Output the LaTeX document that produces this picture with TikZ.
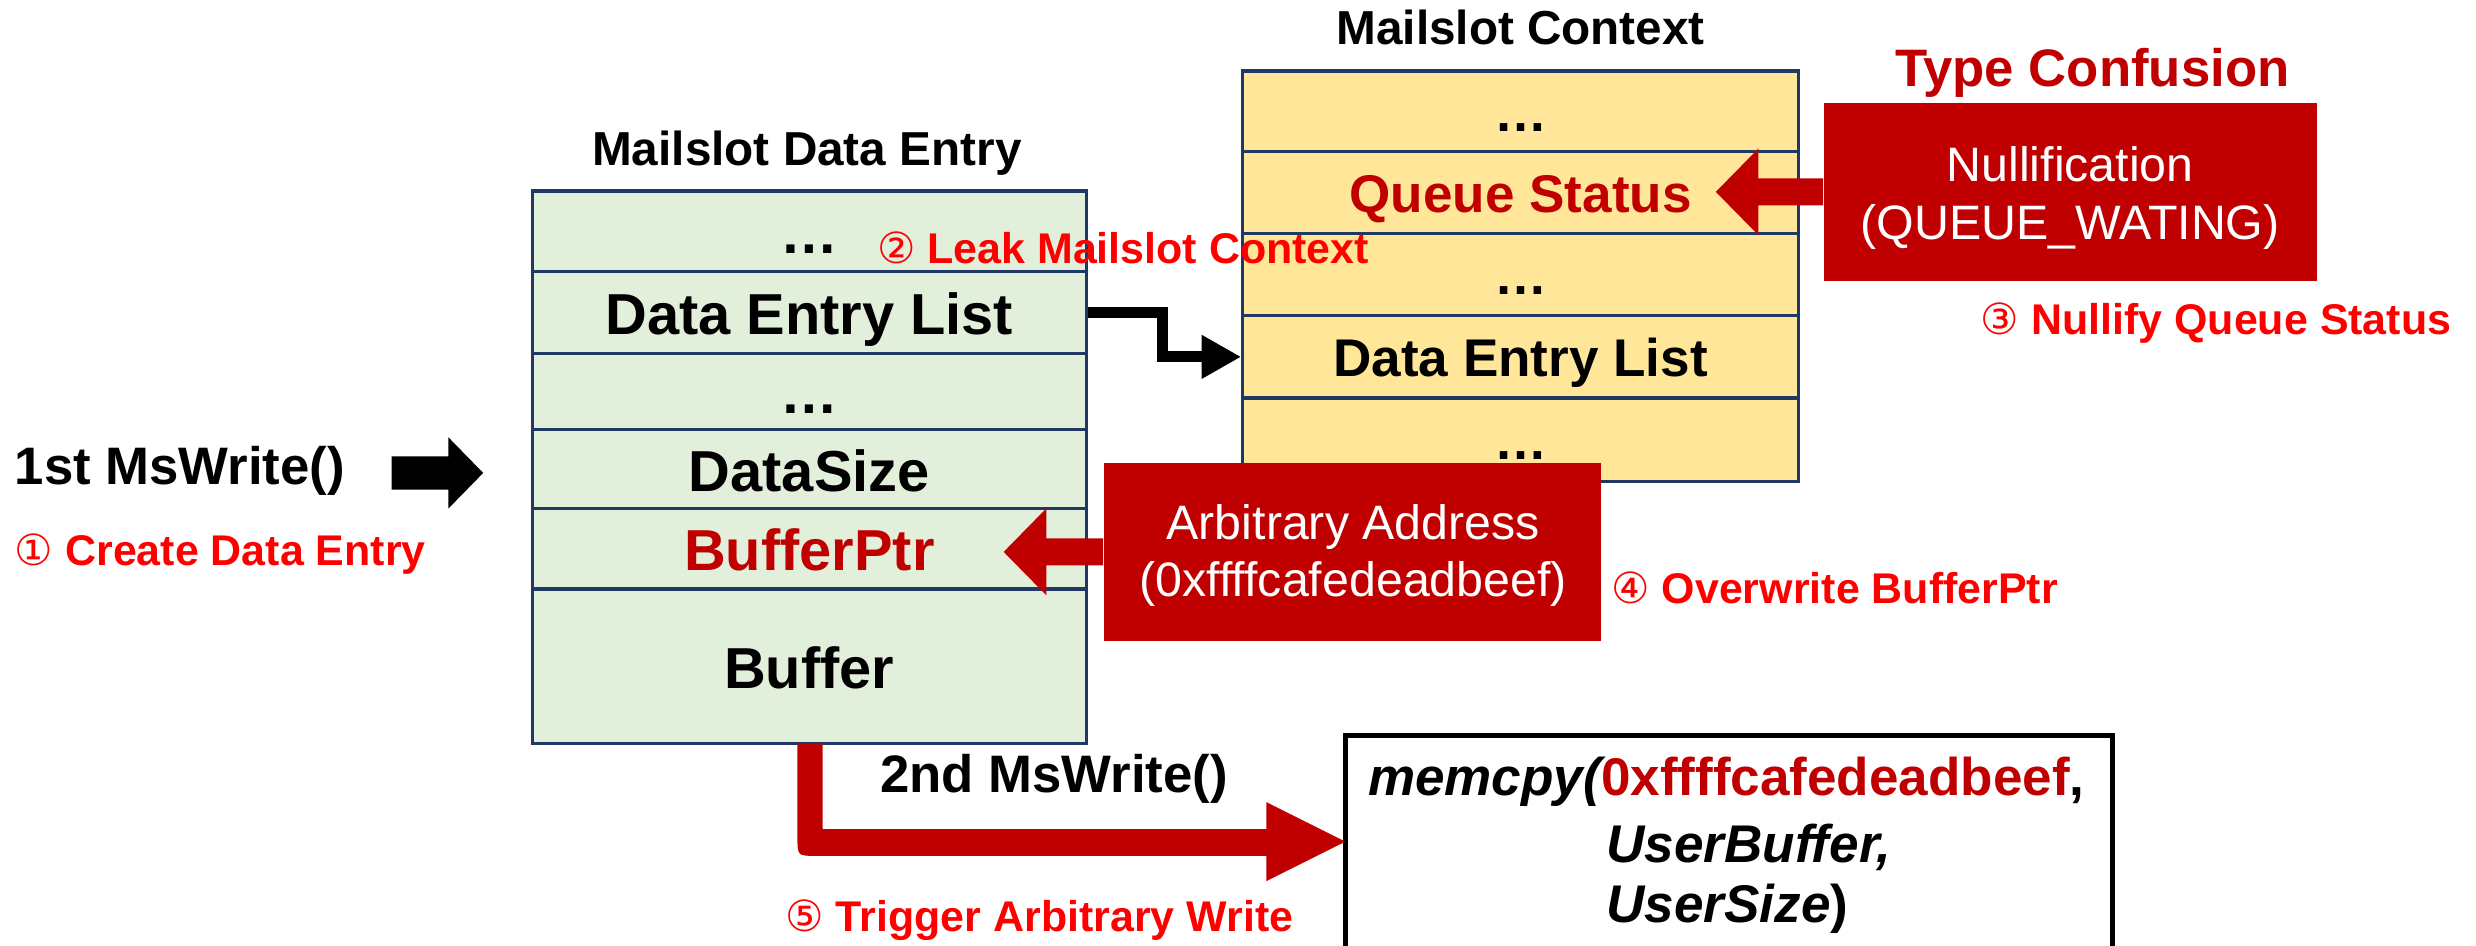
\documentclass[tikz,border=0pt]{standalone}
\usepackage{fontspec}
\setmainfont{Liberation Sans}
\newfontfamily\dvfont{DejaVu Sans}
\usetikzlibrary{arrows.meta,calc}
\definecolor{degreen}{HTML}{E2EFDA}
\definecolor{cxyellow}{HTML}{FFE699}
\definecolor{navyb}{HTML}{203864}
\definecolor{dred}{HTML}{C00000}
\definecolor{bred}{HTML}{FF0000}
\newcommand{\cnum}[1]{{\dvfont\mdseries #1}}
\begin{document}
\begin{tikzpicture}[x=0.5pt,y=-0.5pt,
  derow/.style={draw=navyb, line width=1pt, fill=degreen, minimum width=175.5pt, inner sep=0pt,
    font=\bfseries\fontsize{18.3}{22}\selectfont, text height=14pt, text depth=0pt},
  cxrow/.style={draw=navyb, line width=1pt, fill=cxyellow, minimum width=176pt, inner sep=0pt,
    font=\bfseries\fontsize{16.8}{20}\selectfont, text height=12.5pt, text depth=0pt},
  ttl/.style={font=\bfseries\fontsize{15.1}{18}\selectfont, anchor=base, inner sep=0pt},
  redlbl/.style={font=\bfseries\fontsize{13.6}{16}\selectfont, text=bred, anchor=base west, inner sep=0pt},
  redbox/.style={fill=dred, draw=none, inner sep=0pt},
  boxtxt/.style={font=\fontsize{15.3}{18}\selectfont, text=white, anchor=base, inner sep=0pt},
  calltxt/.style={font=\bfseries\fontsize{16.7}{20}\selectfont, anchor=base west, inner sep=0pt},
  codetxt/.style={font=\bfseries\fontsize{16.8}{20}\selectfont, anchor=base west, inner sep=0pt},
  blkarrow/.style={line width=3.5pt, -{Triangle[length=12.5pt,width=13pt]}},
]
\useasboundingbox (0,0) rectangle (1568,599);
\clip (0,0) rectangle (1568,599);
\fill[white] (0,0) rectangle (1568,599);

% Titles
\node[ttl] (detitle) at (511,105) {Mailslot Data Entry};
\node[ttl] (cxtitle) at (963,28) {Mailslot Context};
\node[font=\bfseries\fontsize{16.7}{20}\selectfont, text=dred, anchor=base, inner sep=0pt] (tc) at (1325,54.5) {Type Confusion};

% Mailslot Data Entry
\node[derow, minimum height=25.5pt] (de1) at (512.5,146.5) {…};
\node[derow, minimum height=26pt] (de2) at (512.5,198) {Data Entry List};
\node[derow, minimum height=24pt] (de3) at (512.5,248) {…};
\node[derow, minimum height=25pt] (de4) at (512.5,297) {DataSize};
\node[derow, minimum height=25.5pt, text=dred] (de5) at (512.5,347.5) {BufferPtr};
\node[derow, minimum height=49pt] (de6) at (512.5,422) {Buffer};

% Mailslot Context
\node[cxrow, minimum height=25.5pt] (cx1) at (963,70.5) {…};
\node[cxrow, minimum height=26pt, text=dred] (cx2) at (963,122) {Queue Status};
\node[cxrow, minimum height=26pt] (cx3) at (963,174) {…};
\node[cxrow, minimum height=26pt] (cx4) at (963,226) {Data Entry List};
\node[cxrow, minimum height=26.5pt] (cx5) at (963,278.5) {…};

% Nullification box
\node[redbox, minimum width=156pt, minimum height=56.5pt] (nul) at (1311,121.5) {};
\node[boxtxt] (nult1) at (1311,115) {Nullification};
\node[boxtxt] (nult2) at (1311,151.5) {(QUEUE\_WATING)};
\fill[dred] ($(nul.west)+(0,-8.5)$) -- ++(-41,0) -- ++(0,-19) -- ($(nul.west)+(-68,0)$)
  -- ($(nul.west)+(-41,27.5)$) -- ++(0,-19) -- ($(nul.west)+(0,8.5)$) -- cycle;

% Arbitrary address box
\node[redbox, minimum width=157.5pt, minimum height=56.5pt] (arb) at (856.5,349.5) {};
\node[boxtxt] (arbt1) at (857,341.5) {Arbitrary Address};
\node[boxtxt] (arbt2) at (857,378) {(0xffffcafedeadbeef)};
\fill[dred] ($(arb.west)+(0,-8.5)$) -- ++(-36,0) -- ++(0,-19) -- ($(arb.west)+(-63,0)$)
  -- ($(arb.west)+(-36,27.5)$) -- ++(0,-19) -- ($(arb.west)+(0,8.5)$) -- cycle;

% Leak arrow
\draw[blkarrow] (de2.east) -- ++(47,0) |- (cx4.west);

% 1st MsWrite
\node[calltxt] (ms1) at (9,307) {1st MsWrite()};
\fill[black] (248,289) -- (284,289) -- (284,277) -- (306,299.5) -- (284,322) -- (284,310) -- (248,310) -- cycle;

% memcpy box
\draw[line width=1.5pt] (852,620) -- (852,466) -- (1338,466) -- (1338,620);
\node[codetxt] (mc1) at (866,504) {\itshape memcpy(\upshape\textcolor{dred}{0xffffcafedeadbeef},};
\node[codetxt] (mc2) at (1017,546) {\itshape UserBuffer,};
\node[codetxt] (mc3) at (1017,584) {\itshape UserSize\upshape)};

% 2nd MsWrite arrow
\coordinate (mcl) at (852,533);
\fill[dred] (505,471) -- (521,471) -- (521,525) -- (802,525) -- (802,508) -- (mcl) -- (802,558)
  -- (802,542) -- (517,542) .. controls (505,542) .. (505,530) -- cycle;
\node[calltxt] (ms2) at (557,502) {2nd MsWrite()};

% Step labels
\node[redlbl] (s1) at (9,358) {\cnum{①} Create Data Entry};
\node[redlbl] (s2) at (555,167) {\cnum{②} Leak Mailslot Context};
\node[redlbl] (s3) at (1254,212) {\cnum{③} Nullify Queue Status};
\node[redlbl] (s4) at (1020,382) {\cnum{④} Overwrite BufferPtr};
\node[redlbl] (s5) at (497,590) {\cnum{⑤} Trigger Arbitrary Write};
\end{tikzpicture}
\end{document}
